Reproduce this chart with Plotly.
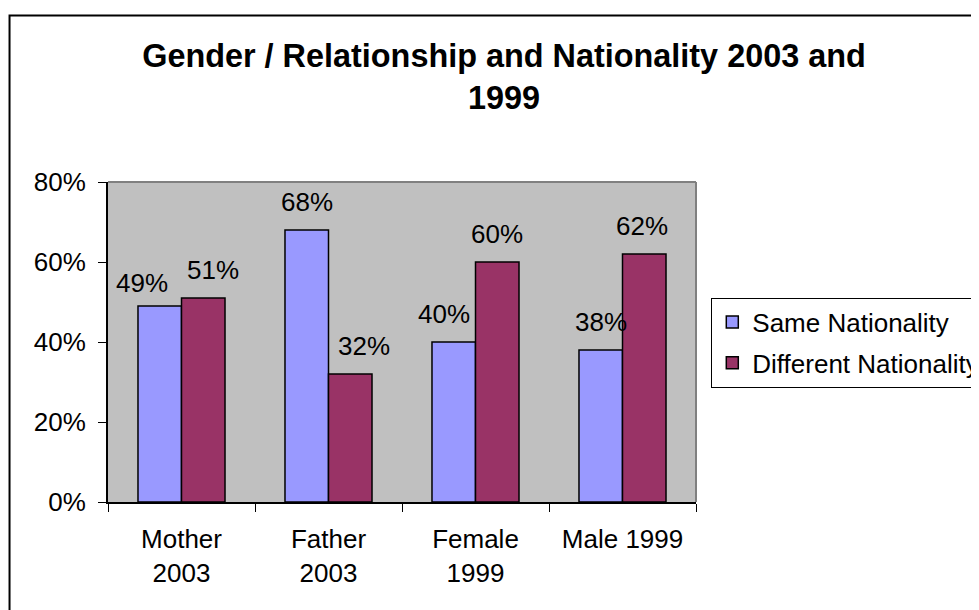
import plotly.graph_objects as go

categories = ["Mother<br>2003", "Father<br>2003", "Female<br>1999", "Male 1999"]
same_nationality = [0.49, 0.68, 0.40, 0.38]
different_nationality = [0.51, 0.32, 0.60, 0.62]
series_names = ["Same Nationality", "Different Nationality"]
y_tick_values = [0, 0.2, 0.4, 0.6, 0.8]
y_tick_labels = ["0%", "20%", "40%", "60%", "80%"]

# label nudges (pixels), as placed in the original chart
same_label_xshift = [-18, 0, -10, 0]
diff_label_xshift = [10, 14, 0, -2]
same_label_yshift = [-5, 0, 0, 0]
diff_label_yshift = [0, 0, 0, 0]

FONT = "Liberation Sans, Arial, sans-serif"
OFF = 8  # page body margin
VW, VH = 979, 610
W, H = VW - OFF, VH - OFF
# plot area in page pixels
PL, PR, PT, PB = 107.5, 695.7, 182, 502
L = PL - OFF
T = PT - OFF
R = W - (PR - OFF)
B = H - (PB - OFF)
PW, PH = PR - PL, PB - PT


def px_x(p):
    return (p - PL) / PW


def px_y(p):
    return (PB - p) / PH


fig = go.Figure()
colors = ["#9999FF", "#993366"]
for name, vals, col in zip(series_names, [same_nationality, different_nationality], colors):
    fig.add_trace(go.Bar(
        x=categories, y=vals, name=name, legendgroup=name,
        marker=dict(color=col, line=dict(color="black", width=1.5)),
    ))

bargap = 0.408
half = (1 - bargap) / 4
for offs, vals, xs, ys in zip([-half, half], [same_nationality, different_nationality],
                              [same_label_xshift, diff_label_xshift],
                              [same_label_yshift, diff_label_yshift]):
    for i, v in enumerate(vals):
        fig.add_annotation(
            x=i + offs, y=v, xref="x", yref="y", text=f"{round(v*100)}%",
            showarrow=False, yanchor="bottom", yshift=11 + ys[i], xshift=xs[i],
            font=dict(family=FONT, size=26, color="black"),
        )

# plot area top/right gray border
fig.add_shape(type="line", xref="paper", yref="paper", x0=0, x1=1, y0=1, y1=1,
              line=dict(color="#808080", width=2), layer="above")
fig.add_shape(type="line", xref="paper", yref="paper", x0=1, x1=1, y0=0, y1=1,
              line=dict(color="#808080", width=2), layer="above")
# outer chart frame
fig.add_shape(type="rect", xref="paper", yref="paper",
              x0=px_x(9), x1=px_x(1010), y0=px_y(640), y1=px_y(15.5),
              line=dict(color="black", width=2), layer="above")

fig.update_layout(
    width=W, height=H,
    margin=dict(l=L, r=R, t=T, b=B, autoexpand=False),
    paper_bgcolor="white", plot_bgcolor="#C0C0C0",
    font=dict(family=FONT, size=26, color="black"),
    title=dict(text="<b>Gender / Relationship and Nationality 2003 and<br>1999</b>",
               x=(504 - OFF) / W, xanchor="center", xref="container",
               y=1 - 59 / H, yanchor="top", yref="container",
               font=dict(family=FONT, size=32.4, color="black")),
    barmode="group", bargap=bargap, bargroupgap=0,
    showlegend=True,
    legend=dict(x=px_x(711), y=px_y(297.5), xanchor="left", yanchor="top",
                bgcolor="white", bordercolor="black", borderwidth=1,
                font=dict(family=FONT, size=26, color="black"),
                traceorder="grouped", tracegroupgap=4),
    xaxis=dict(showline=True, linecolor="black", linewidth=2, ticks="outside",
               tickson="boundaries", ticklen=8, tickcolor="black", tickwidth=1,
               showgrid=False, ticklabelstandoff=13,
               tickfont=dict(family=FONT, size=26)),
    yaxis=dict(range=[0, 0.8], tickvals=y_tick_values, ticktext=y_tick_labels,
               showline=True, linecolor="black", linewidth=2, ticks="outside",
               ticklen=8, tickcolor="black", tickwidth=1, showgrid=False,
               zeroline=False, ticklabelstandoff=7,
               tickfont=dict(family=FONT, size=26)),
)

fig.write_html("out.html")
